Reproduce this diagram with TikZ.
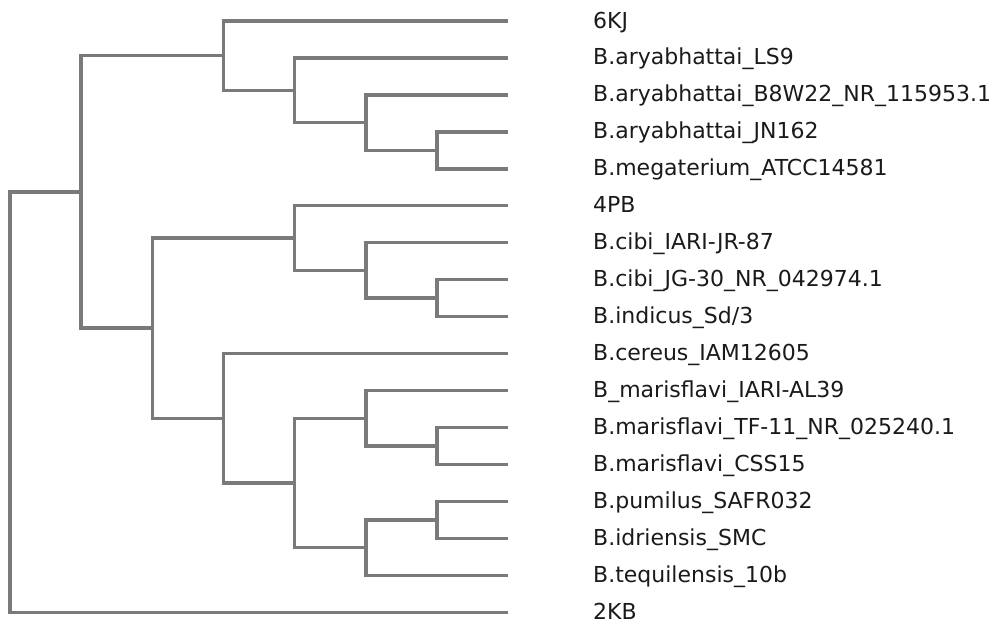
\documentclass[tikz,border=0pt]{standalone}
\usepackage{fontspec}
\setmainfont{DejaVu Sans}
\definecolor{branchgray}{HTML}{7A7A7A}
\definecolor{labelink}{HTML}{1A1A1A}
\tikzset{
  branch/.style={draw=branchgray, line width=3.4pt, line join=miter},
  taxon/.style={anchor=base west, inner sep=0pt, text=labelink, font=\fontsize{22}{26}\selectfont},
}
\begin{document}
\begin{tikzpicture}[x=1pt, y=-1pt]
  \useasboundingbox (0,0) rectangle (995,625);
  % leaves: tip of the branch and its label
  \foreach \i/\lbl in {
      0/6KJ,
      1/B.aryabhattai\_LS9,
      2/B.aryabhattai\_B8W22\_NR\_115953.1,
      3/B.aryabhattai\_JN162,
      4/B.megaterium\_ATCC14581,
      5/4PB,
      6/B.cibi\_IARI-JR-87,
      7/B.cibi\_JG-30\_NR\_042974.1,
      8/{B.indicus\_Sd/3},
      9/B.cereus\_IAM12605,
      10/B\_marisflavi\_IARI-AL39,
      11/B.marisflavi\_TF-11\_NR\_025240.1,
      12/B.marisflavi\_CSS15,
      13/B.pumilus\_SAFR032,
      14/B.idriensis\_SMC,
      15/B.tequilensis\_10b,
      16/2KB} {
      \coordinate (t\i) at (508, {21+36.95*\i});
      \node[taxon] (l\i) at (593, {28+36.95*\i}) {\lbl};
  }
  % inner nodes: name / depth / row
  \foreach \n/\k/\r in {
      root/0/10.3125, nA/1/4.625,
      nB/3/0.9375, nB1/4/1.875, nB2/5/2.75, nB3/6/3.5,
      nC/2/8.3125,
      nD/4/5.875, nD1/5/6.75, nD2/6/7.5,
      nE/3/10.75, nF/4/12.5,
      nG/5/10.75, nG1/6/11.5,
      nI/5/14.25, nJ/6/13.5} {
      \coordinate (\n) at ({10+71.17*\k}, {21+36.95*\r});
  }
  % branches
  \foreach \p/\c in {
      root/nA, root/t16,
      nA/nB, nA/nC,
      nB/t0, nB/nB1, nB1/t1, nB1/nB2, nB2/t2, nB2/nB3, nB3/t3, nB3/t4,
      nC/nD, nC/nE,
      nD/t5, nD/nD1, nD1/t6, nD1/nD2, nD2/t7, nD2/t8,
      nE/t9, nE/nF,
      nF/nG, nF/nI,
      nG/t10, nG/nG1, nG1/t11, nG1/t12,
      nI/nJ, nI/t15, nJ/t13, nJ/t14} {\draw[branch] (\p) |- (\c);}
\end{tikzpicture}
\end{document}
